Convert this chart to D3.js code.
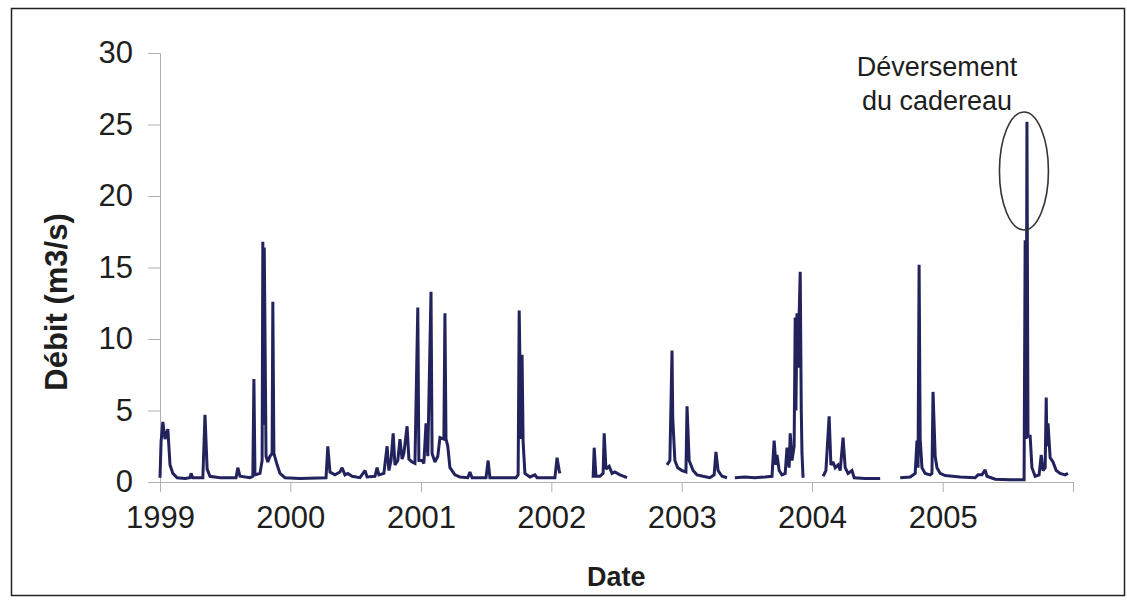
<!DOCTYPE html>
<html><head><meta charset="utf-8">
<script src="https://cdn.jsdelivr.net/npm/d3@7"></script>
<style>body{margin:0;background:#fff}svg{display:block}</style>
</head><body>
<svg id="c" width="1127" height="602"></svg>
<script>
// Daily discharge (m3/s); null = missing data
const dates = [
"1999-01-01","1999-01-04","1999-01-09","1999-01-15","1999-01-23","1999-01-29","1999-02-06","1999-02-18","1999-03-12","1999-03-26","1999-03-29","1999-04-03","1999-05-01","1999-05-07","1999-05-13","1999-05-21","1999-06-18","1999-08-02","1999-08-07","1999-08-13","1999-09-10","1999-09-18","1999-09-21","1999-09-24","1999-10-08","1999-10-14","1999-10-16","1999-10-18","1999-10-20","1999-10-25","1999-10-30","1999-11-05","1999-11-11","1999-11-13","1999-11-16","1999-11-25","1999-12-03","1999-12-17",
"2000-01-28","2000-04-10","2000-04-15","2000-04-21","2000-05-05","2000-05-19","2000-05-25","2000-06-02","2000-06-10","2000-06-22","2000-07-14","2000-07-28","2000-08-03","2000-08-25","2000-08-31","2000-09-05","2000-09-19","2000-09-28","2000-10-03","2000-10-09","2000-10-15","2000-10-20","2000-10-28","2000-11-03","2000-11-09","2000-11-14","2000-11-23","2000-11-28","2000-12-07","2000-12-15","2000-12-23","2000-12-26",
"2001-01-04","2001-01-09","2001-01-15","2001-01-20","2001-01-29","2001-02-01","2001-02-09","2001-02-17","2001-02-23","2001-03-06","2001-03-09","2001-03-12","2001-03-17","2001-03-23","2001-04-06","2001-04-20","2001-05-12","2001-05-18","2001-05-24","2001-07-02","2001-07-08","2001-07-13","2001-09-24","2001-09-30","2001-10-03","2001-10-08","2001-10-11","2001-10-14","2001-10-19","2001-11-02","2001-11-16","2001-11-22",
"2002-01-11","2002-01-17","2002-01-23","2002-01-25","2002-02-01",
"2002-04-28","2002-05-01","2002-05-06","2002-05-17","2002-05-26","2002-05-29","2002-06-03","2002-06-12","2002-06-20","2002-06-28","2002-07-12","2002-07-23","2002-08-01","2002-08-10",
"2002-11-21","2002-11-29","2002-12-05","2002-12-07","2002-12-13","2002-12-21","2003-01-02","2003-01-13","2003-01-16","2003-01-22","2003-02-02","2003-02-13","2003-03-02","2003-03-21","2003-04-02","2003-04-07","2003-04-13","2003-04-24","2003-05-08","2003-05-18",
"2003-05-30","2003-06-27","2003-07-25","2003-08-22","2003-09-11","2003-09-17","2003-09-22","2003-09-25","2003-10-01","2003-10-09","2003-10-18","2003-10-23","2003-10-29","2003-11-01","2003-11-06","2003-11-12","2003-11-15","2003-11-17","2003-11-20","2003-11-23","2003-11-26","2003-11-29","2003-12-02","2003-12-04","2003-12-07","2003-12-20",
"2004-02-01","2004-02-09","2004-02-18","2004-02-23","2004-02-29","2004-03-06","2004-03-14","2004-03-20","2004-03-28","2004-04-03","2004-04-11","2004-04-22","2004-04-28","2004-05-29","2004-07-10","2004-08-01",
"2004-09-04","2004-10-02","2004-10-16","2004-10-21","2004-10-24","2004-10-27","2004-10-30","2004-11-04","2004-11-13","2004-11-27","2004-12-02","2004-12-05","2004-12-11","2004-12-16","2004-12-25",
"2005-01-08","2005-02-19","2005-04-02","2005-04-10","2005-04-21","2005-04-30","2005-05-05","2005-05-28","2005-07-09","2005-08-17","2005-08-20","2005-08-23","2005-08-25","2005-08-28","2005-09-03","2005-09-08","2005-09-17","2005-09-28","2005-10-04","2005-10-09","2005-10-15","2005-10-18","2005-10-20","2005-10-23","2005-10-29","2005-11-06","2005-11-15","2005-11-26","2005-12-10","2005-12-18"
];
const debit = [
0.3,2.8,4.2,3.0,3.7,1.2,0.6,0.3,0.25,0.3,0.6,0.3,0.3,4.7,0.9,0.4,0.3,0.3,1.0,0.4,0.3,0.4,7.2,0.5,0.6,1.5,16.8,4.0,16.4,1.8,1.4,1.8,2.0,12.6,2.0,1.2,0.6,0.3,
0.25,0.3,2.5,0.7,0.5,0.7,1.0,0.5,0.6,0.4,0.3,0.8,0.35,0.4,1.0,0.5,0.6,2.5,0.8,1.5,3.4,1.2,1.5,3.0,1.6,2.0,3.9,1.6,1.4,1.3,12.2,1.5,
1.5,1.3,4.1,1.8,13.3,2.0,1.4,1.8,3.1,3.0,11.8,3.0,2.5,1.0,0.5,0.35,0.3,0.7,0.3,0.3,1.5,0.3,0.3,0.5,12.0,3.0,8.9,2.8,0.6,0.35,0.5,0.3,
0.3,1.7,0.8,0.6,null,
0.3,2.4,0.4,0.4,0.6,3.4,0.9,1.1,0.6,0.7,0.5,0.4,0.3,null,
1.2,1.5,9.2,4.5,1.5,1.0,0.8,0.7,5.3,1.5,0.8,0.5,0.4,0.3,0.5,2.1,0.8,0.4,0.3,null,
0.3,0.35,0.3,0.35,0.4,2.9,1.2,1.9,0.8,0.5,0.6,2.4,1.0,3.4,1.5,2.5,11.5,5.0,11.8,8.0,11.6,14.7,5.0,2.0,0.3,null,
0.4,0.8,4.6,1.2,1.4,1.0,1.2,0.8,3.1,1.0,0.6,0.8,0.3,0.25,0.25,null,
0.3,0.35,0.6,2.9,1.0,15.2,3.0,1.0,0.6,0.5,0.6,6.3,1.8,1.0,0.6,
0.45,0.35,0.3,0.5,0.5,0.85,0.4,0.2,0.15,0.15,16.9,3.0,25.2,3.2,3.2,1.0,0.4,0.5,1.9,0.8,1.0,5.9,2.5,4.1,1.7,1.4,0.8,0.6,0.5,0.6
];
const yTicks = [0,5,10,15,20,25,30];
const yearLabels = ["1999","2000","2001","2002","2003","2004","2005"];
const annotation = ["Déversement","du cadereau"];
const peakDate = "2005-08-25";

const FONT = "Liberation Sans, Arial, sans-serif";
const parse = d3.timeParse("%Y-%m-%d");
const data = dates.map((d,i)=>({date:parse(d), v:debit[i]}));

const svg = d3.select("#c");
svg.append("rect").attr("x",11.5).attr("y",8.5).attr("width",1113).attr("height",587)
  .attr("fill","#fff").attr("stroke","#222").attr("stroke-width",1.5);

const x = d3.scaleTime().domain([new Date(1999,0,1), new Date(2006,0,1)]).range([160,1073]);
const y = d3.scaleLinear().domain([0,30]).range([482,53]);

// y axis
const ya = svg.append("g").attr("transform","translate(160,0)")
  .call(d3.axisLeft(y).tickValues(yTicks).tickSize(12).tickPadding(15));
ya.select(".domain").attr("stroke","#b0b0b0");
ya.selectAll(".tick line").attr("stroke","#b0b0b0");
ya.selectAll("text").attr("font-family",FONT).attr("font-size",31).attr("fill","#1e1e1e");

// x axis
const xa = svg.append("g").attr("transform","translate(0,482)")
  .call(d3.axisBottom(x).ticks(d3.timeYear.every(1)).tickSize(10).tickPadding(14)
    .tickFormat(d=>{const s=d3.timeFormat("%Y")(d);return yearLabels.includes(s)?s:"";}));
xa.select(".domain").attr("stroke","#b0b0b0");
xa.selectAll(".tick line").attr("stroke","#b0b0b0");
xa.selectAll("text").attr("font-family",FONT).attr("font-size",31).attr("fill","#1e1e1e");

// line
const line = d3.line().defined(d=>d.v!==null).x(d=>x(d.date)).y(d=>y(d.v));
svg.append("path").datum(data).attr("d",line).attr("fill","none")
  .attr("stroke","#22225c").attr("stroke-width",3).attr("stroke-linejoin","miter").attr("stroke-miterlimit",2);

// axis titles
svg.append("text").attr("transform","translate(67,302) rotate(-90)").attr("text-anchor","middle")
  .attr("font-family",FONT).attr("font-weight","bold").attr("font-size",31).attr("fill","#1e1e1e")
  .text("Débit (m3/s)");
svg.append("text").attr("x",x(new Date(2002,6,2))).attr("y",586).attr("text-anchor","middle")
  .attr("font-family",FONT).attr("font-weight","bold").attr("font-size",27).attr("fill","#1e1e1e")
  .text("Date");

// annotation
const px = x(parse(peakDate));
svg.append("ellipse").attr("cx",px-3).attr("cy",171).attr("rx",24.5).attr("ry",59)
  .attr("fill","none").attr("stroke","#333").attr("stroke-width",1.6);
svg.selectAll(".ann").data(annotation).enter().append("text")
  .attr("x",px-90).attr("y",(d,i)=>76+i*34).attr("text-anchor","middle")
  .attr("font-family",FONT).attr("font-size",27).attr("fill","#1e1e1e")
  .text(d=>d);
</script>
</body></html>
